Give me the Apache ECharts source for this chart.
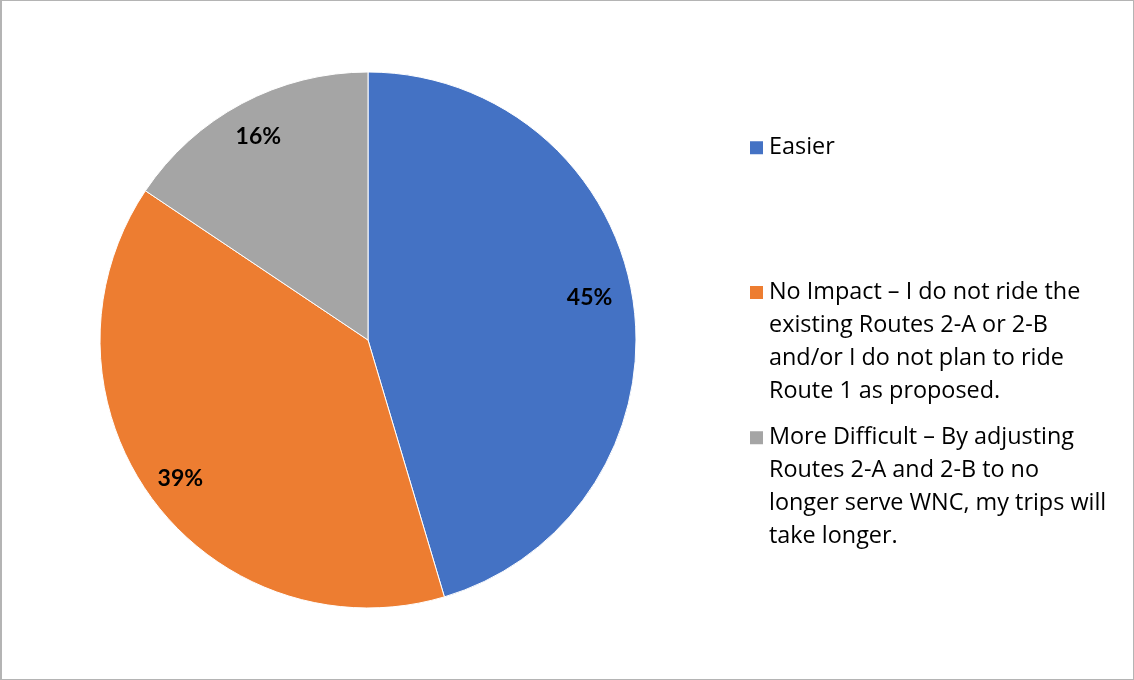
<!DOCTYPE html>
<html>
<head>
<meta charset="utf-8">
<script src="https://cdn.jsdelivr.net/npm/echarts@6/dist/echarts.min.js"></script>
<style>
  html, body { margin: 0; padding: 0; background: #fff; }
  #chart { width: 1134px; height: 680px; box-sizing: border-box; border: 1px solid #b4b4b4; border-left-width: 2px; }
</style>
</head>
<body>
<div id="chart"></div>
<script>
const categories = [
  "Easier",
  "No Impact – I do not ride the existing Routes 2-A or 2-B and/or I do not plan to ride Route 1 as proposed.",
  "More Difficult – By adjusting Routes 2-A and 2-B to no longer serve WNC, my trips will take longer."
];
const values = [45.4, 39.0, 15.6];
const colors = ["#4472C4", "#ED7D31", "#A5A5A5"];
const legendLines = [
  ["Easier"],
  ["No Impact – I do not ride the", "existing Routes 2-A or 2-B", "and/or I do not plan to ride", "Route 1 as proposed."],
  ["More Difficult – By adjusting", "Routes 2-A and 2-B to no", "longer serve WNC, my trips will", "take longer."]
];
const legendCenters = [146.7, 291.5, 436.7];

const FONT = "Open Sans";
const LH = 33;

const chart = echarts.init(document.getElementById('chart'), null, { renderer: 'canvas' });

const pieData = categories.map((c, i) => ({ name: c, value: values[i], itemStyle: { color: colors[i] } }));
const labelOffsets = [[-9, -9], [0, 0], [0, 2]];

const legends = categories.map((c, i) => {
  const n = legendLines[i].length;
  const H = (2 * n - 1) * LH;
  return {
    data: [c],
    orient: 'vertical',
    left: 746,
    top: legendCenters[i] - H / 2,
    padding: 0,
    icon: 'rect',
    itemWidth: 15,
    itemHeight: 15,
    selectedMode: false,
    textStyle: { fontFamily: FONT, fontSize: 23.4, color: '#000', lineHeight: LH, padding: [0, 0, 0, 0] },
    formatter: function () {
      const lines = legendLines[i];
      const blanks = new Array(lines.length - 1).fill('');
      return blanks.concat(lines).join('\n');
    }
  };
});

chart.setOption({
  animation: false,
  backgroundColor: '#fff',
  legend: legends,
  series: [
    {
      type: 'pie',
      center: [366, 339],
      radius: [0, 268],
      startAngle: 90,
      clockwise: true,
      label: { show: false },
      labelLine: { show: false },
      itemStyle: { borderColor: '#fff', borderWidth: 1 },
      emphasis: { disabled: true },
      data: pieData
    },
    {
      type: 'pie',
      center: [366, 339],
      radius: [192, 268],
      startAngle: 90,
      clockwise: true,
      silent: true,
      legendHoverLink: false,
      itemStyle: { color: 'transparent', borderWidth: 0 },
      emphasis: { disabled: true },
      label: {
        show: true,
        position: 'inside',
        fontFamily: "Lato",
        fontSize: 23,
        fontWeight: 'bold',
        color: '#000',
        formatter: p => Math.round(p.percent) + '%'
      },
      labelLine: { show: false },
      data: categories.map((c, i) => ({ name: c, value: values[i], itemStyle: { color: 'transparent' }, label: { offset: labelOffsets[i] } }))
    }
  ]
});
</script>
</body>
</html>
